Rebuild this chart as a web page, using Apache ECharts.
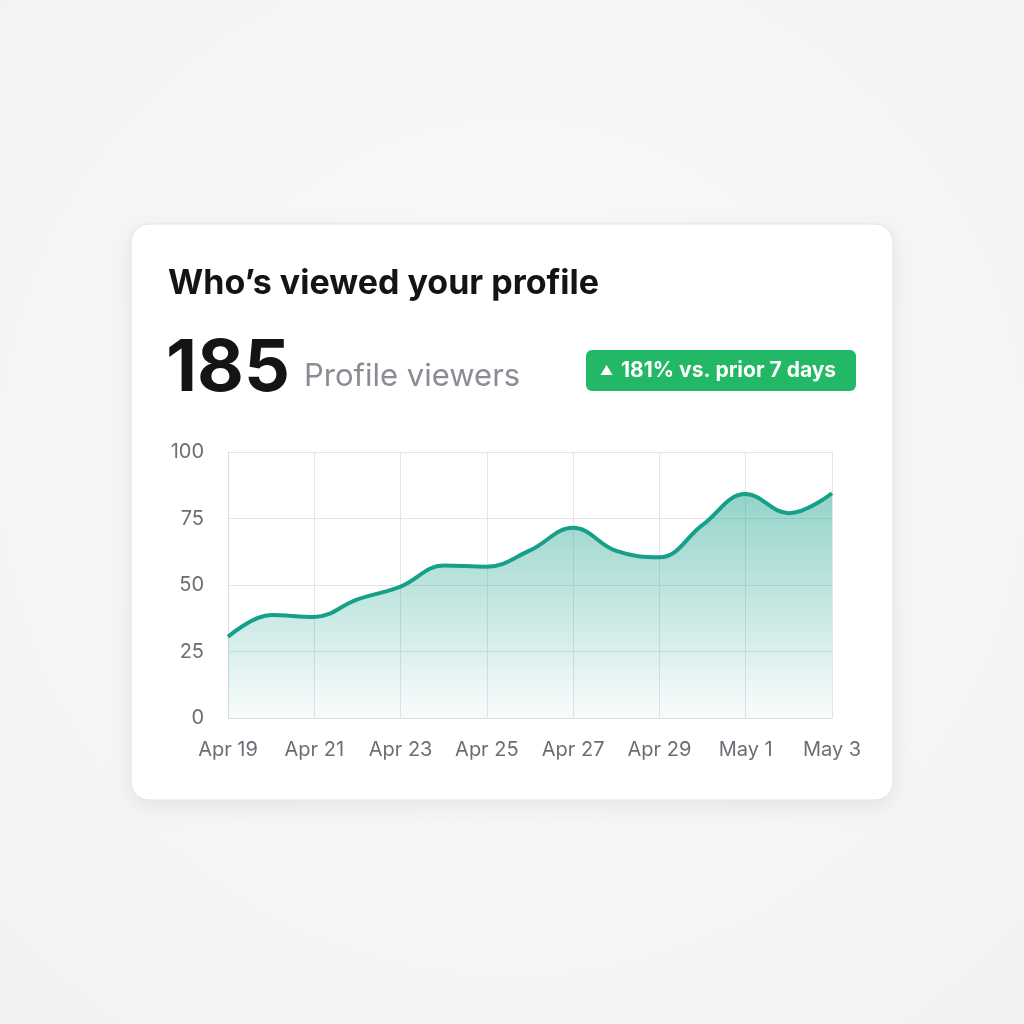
<!DOCTYPE html>
<html><head><meta charset="utf-8">
<script src="https://cdn.jsdelivr.net/npm/echarts@6/dist/echarts.min.js"></script>
<style>html,body{margin:0;padding:0;background:#f7f7f8;}#c{width:1024px;height:1024px;}</style>
</head><body><div id="c"></div>
<script>
const dates = ['Apr 19','Apr 20','Apr 21','Apr 22','Apr 23','Apr 24','Apr 25','Apr 26','Apr 27','Apr 28','Apr 29','Apr 30','May 1','May 2','May 3'];
const viewers = [30.5, 38.7, 38, 44.6, 49.4, 57.3, 56.9, 63, 71.5, 62.8, 60.4, 72.6, 84.2, 77, 84.5];
const yTicks = [0, 25, 50, 75, 100];
const titleText = 'Who\u2019s viewed your profile';
const totalText = '185';
const subText = 'Profile viewers';
const badgeArrow = '\u25B2';
const badgeText = '181% vs. prior 7 days';

const chart = echarts.init(document.getElementById('c'), null, {renderer:'canvas'});
const font = 'Inter, "Noto Sans", "DejaVu Sans", sans-serif';
chart.setOption({
  backgroundColor: {
    type:'radial', x:0.5, y:0.45, r:0.75,
    colorStops:[{offset:0,color:'#fbfbfc'},{offset:1,color:'#f2f2f3'}]
  },
  graphic: [
    {type:'rect', z:-10, shape:{x:131,y:224,width:762,height:576,r:18},
     style:{fill:'#ffffff', stroke:'#e3e3e6', lineWidth:1, shadowBlur:24, shadowColor:'rgba(0,0,0,0.08)', shadowOffsetY:6}},
    {type:'text', left:168, top:267, style:{text:titleText, font:'bold 34px '+font, fill:'#141414'}},
    {type:'text', left:166, top:333, style:{text:totalText, font:'bold 72px '+font, fill:'#141414'}},
    {type:'text', left:304, top:361, style:{text:subText, font:'31px '+font, fill:'#8a8d93'}},
    {type:'rect', shape:{x:586,y:350,width:270,height:41,r:6}, style:{fill:'#22b865'}},
    {type:'text', x:600, y:371, style:{
      text:'{a|'+badgeArrow+'}{b|'+badgeText+'}', align:'left', verticalAlign:'middle',
      rich:{a:{font:'13px '+font, fill:'#ffffff', width:21}, b:{font:'bold 21px '+font, fill:'#ffffff'}}}}
  ],
  grid:{left:228, right:192, top:452, bottom:306},
  xAxis:{
    type:'category', data:dates, boundaryGap:false,
    axisLine:{show:true, lineStyle:{color:'#dcdde0'}},
    axisTick:{show:false},
    axisLabel:{interval:1, color:'#6b6e75', fontSize:20, fontFamily:font, margin:22},
    splitLine:{show:true, interval:1, lineStyle:{color:'#e4e5e8'}}
  },
  yAxis:{
    type:'value', min:0, max:100, interval:25,
    axisLine:{show:true, lineStyle:{color:'#dcdde0'}},
    axisTick:{show:false},
    axisLabel:{color:'#6b6e75', fontSize:20, fontFamily:font, margin:24,
      formatter:(v)=> yTicks.includes(v) ? String(v) : ''},
    splitLine:{show:true, lineStyle:{color:'#e4e5e8'}}
  },
  series:[{
    type:'line', data:viewers, smooth:0.4, symbol:'none',
    lineStyle:{color:'#16a08a', width:4},
    areaStyle:{color:{type:'linear',x:0,y:0,x2:0,y2:1,colorStops:[
      {offset:0,color:'rgba(22,160,138,0.66)'},{offset:1,color:'rgba(22,160,138,0.04)'}]}},
    z:3
  }]
});
</script></body></html>
